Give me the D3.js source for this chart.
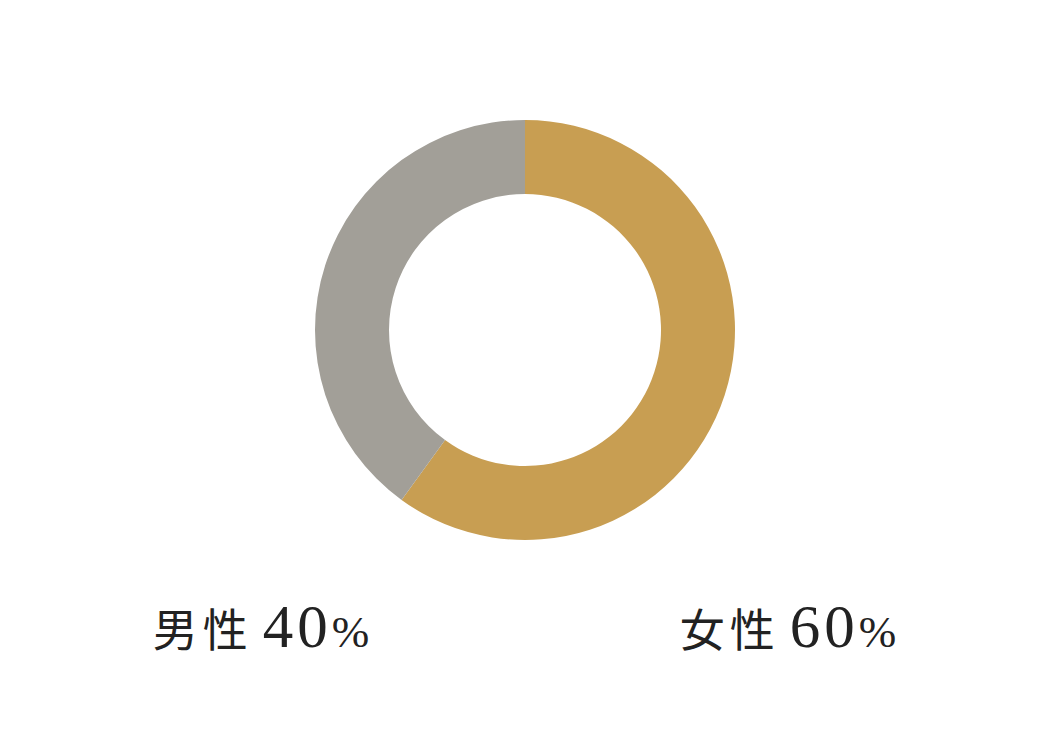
<!DOCTYPE html>
<html><head><meta charset="utf-8">
<script src="https://cdn.jsdelivr.net/npm/d3@7/dist/d3.min.js"></script>
<style>body{margin:0;background:#fff;}svg{display:block;}</style>
</head><body>
<svg id="c" width="1050" height="750"></svg>
<script>
const categories = ["女性", "男性"];
const values = [60, 40];
const colors = ["#C89E52", "#A29F98"];

const svg = d3.select("#c");
const cx = 525, cy = 330, outerR = 210, innerR = 136;
const g = svg.append("g").attr("transform", `translate(${cx},${cy})`);
const pie = d3.pie().sort(null).value(d => d.v);
const data = categories.map((c, i) => ({c, v: values[i], col: colors[i]}));
const arcs = pie(data);
const arc = d3.arc().innerRadius(innerR).outerRadius(outerR);
g.selectAll("path").data(arcs).enter().append("path")
  .attr("d", arc).attr("fill", d => d.data.col);

// labels: 女性 right, 男性 left
const labelX = {"女性": cx + 263, "男性": cx - 264};
data.forEach(d => {
  const t = svg.append("text").attr("x", labelX[d.c]).attr("y", 647)
    .attr("text-anchor", "middle").attr("fill", "#222");
  t.append("tspan").text(d.c)
    .attr("font-family", "'Noto Sans CJK JP'").attr("font-size", 45)
    .attr("font-weight", 400).attr("letter-spacing", 5);
  t.append("tspan").text(d.v).attr("dx", 10)
    .attr("font-family", "'Liberation Serif', 'DejaVu Serif', serif").attr("font-size", 61)
    .attr("letter-spacing", 4);
  t.append("tspan").text("%").attr("dx", 0)
    .attr("font-family", "'Liberation Serif', 'DejaVu Serif', serif").attr("font-size", 45);
});
</script>
</body></html>
